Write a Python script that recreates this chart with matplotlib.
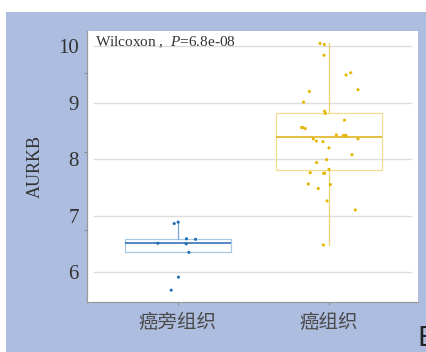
import numpy as np
import matplotlib.pyplot as plt
from matplotlib.patches import Rectangle

plt.rcParams['mathtext.fontset'] = 'custom'
plt.rcParams['mathtext.rm'] = 'Liberation Serif'
plt.rcParams['mathtext.it'] = 'Liberation Serif:italic'

# 分组与表达值
groups = ['癌旁组织', '癌组织']
normal_vals = [6.86, 6.885, 6.59, 6.58, 6.51, 6.50, 6.35, 5.91, 5.68]
normal_jit = [-0.023, 0.003, 0.058, 0.118, -0.131, 0.056, 0.074, 0.005, -0.043]
tumor_vals = [10.05, 10.03, 9.84, 9.49, 9.53, 9.20, 9.23, 9.01, 8.85, 8.81,
              8.69, 8.56, 8.56, 8.54, 8.43, 8.42, 8.42, 8.42, 8.36, 8.36,
              8.32, 8.31, 8.20, 8.08, 7.99, 7.94, 7.82, 7.75, 7.75, 7.76,
              7.56, 7.55, 7.48, 7.26, 7.10, 6.48]
tumor_jit = [-0.058, -0.030, -0.032, 0.114, 0.145, -0.129, 0.193, -0.167, -0.028, -0.023,
             0.103, -0.180, -0.171, -0.156, 0.050, 0.096, 0.105, 0.114, 0.193, -0.103,
             -0.083, -0.039, 0.001, 0.153, -0.015, -0.081, 0.001, -0.028, -0.034, -0.123,
             -0.136, 0.010, -0.070, -0.012, 0.175, -0.036]
y_ticks = [6, 7, 8, 9, 10]
p_text = 'Wilcoxon ,  $P$=6.8e-08'

# 颜色: 点, 箱线, 中位线, 须
styles = [
    dict(pt='#1f6db3', box='#a6c8e4', med='#2467ad', wh='#7ba7d2'),
    dict(pt='#e6b700', box='#f2dd90', med='#dcae10', wh='#f0d272'),
]

fig = plt.figure(figsize=(4.26, 3.52), dpi=100, facecolor='white')
fig.patches.append(Rectangle((6 / 426, 0), 1, 1 - 12 / 352, transform=fig.transFigure,
                             facecolor='#adbde0', edgecolor='none', zorder=-10))

ax = fig.add_axes([87 / 426, 50 / 352, 331 / 426, 271 / 352])
ax.set_facecolor('white')

data = [normal_vals, tumor_vals]
jits = [normal_jit, tumor_jit]
for i, (vals, jit, st) in enumerate(zip(data, jits, styles)):
    pos = i + 1
    ax.boxplot([vals], positions=[pos], widths=0.7, showfliers=False,
               patch_artist=True,
               boxprops=dict(facecolor='none', edgecolor=st['box'], linewidth=0.9),
               medianprops=dict(color=st['med'], linewidth=1.1),
               whiskerprops=dict(color=st['wh'], linewidth=0.9),
               capprops=dict(linewidth=0), zorder=2)
    ax.scatter(pos + np.array(jit), vals, s=5, color=st['pt'], edgecolors='none', zorder=3)

for y in y_ticks:
    ax.axhline(y, xmin=0.021, xmax=0.979, color='#dcdcdc', linewidth=1.0, zorder=0)

ax.set_xlim(0.4, 2.59)
ax.set_ylim(5.47, 10.27)
ax.set_xticks([1, 2])
ax.set_xticklabels(groups, fontsize=14, color='#4a4a4a', family=['Noto Sans CJK SC'])
ax.set_yticks(y_ticks)
ax.set_yticklabels([str(t) for t in y_ticks], fontsize=15, color='#333333',
                   family=['Liberation Serif'])
ax.set_yticks([6.74, 8.13, 9.53], minor=True)
ax.tick_params(axis='y', which='major', length=0, pad=6)
ax.tick_params(axis='y', which='minor', length=2.5, width=0.7, color='#888888')
ax.tick_params(axis='x', length=2, width=0.7, color='#888888', pad=5)

for s in ['top', 'right']:
    ax.spines[s].set_visible(False)
for s in ['left', 'bottom']:
    ax.spines[s].set_color('#9a9a9a')
    ax.spines[s].set_linewidth(0.9)

ax.set_ylabel('AURKB', fontsize=13, family=['Liberation Serif'], color='#333333', labelpad=10)

ax.text(0.025, 0.988, p_text, transform=ax.transAxes, ha='left', va='top',
        fontsize=11, family=['Liberation Serif'], color='#333333')

fig.text(417 / 426, 0, 'E', fontsize=19, color='#222222', ha='left', va='bottom',
         family=['DejaVu Sans'])

fig.savefig('out.png', dpi=100, facecolor=fig.get_facecolor())
